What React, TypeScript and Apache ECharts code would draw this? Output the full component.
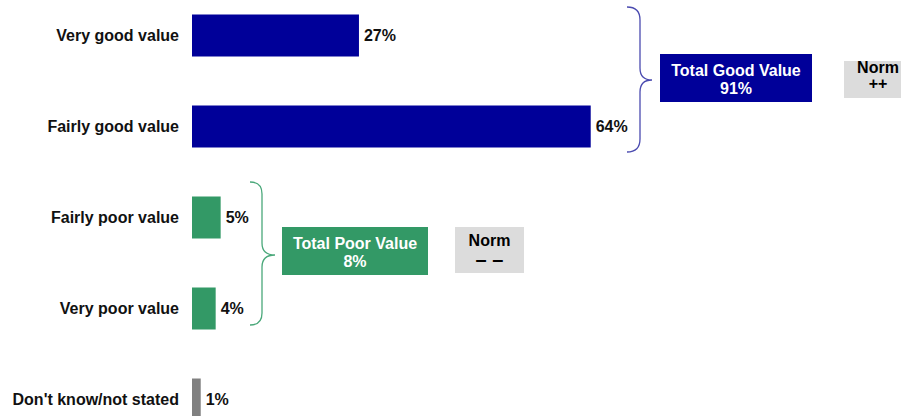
import React, { useEffect, useRef } from "react";
import * as echarts from "echarts";

const categories = [
  "Very good value",
  "Fairly good value",
  "Fairly poor value",
  "Very poor value",
  "Don't know/not stated",
];
const values = [26.8, 64.0, 4.6, 3.8, 1.4];
const barColors = ["#000099", "#000099", "#339966", "#339966", "#808080"];
const goodIdx = [0, 1];
const poorIdx = [2, 3];
const goodNorm = "++";
const poorNorm = "– –";

const FONT = "Liberation Sans, Arial, sans-serif";
const OY = 10; // the chart div is shifted up by this many pixels

export default function App() {
  const ref = useRef<HTMLDivElement>(null);
  useEffect(() => {
    if (!ref.current) return;
    echarts.graphic.registerShape(
      "braceGood",
      echarts.graphic.extendPath(
        "M627,7 Q640,7 640,20 L640,68 Q640,80 652,80 Q640,80 640,92 L640,139 Q640,152 627,152",
        {}
      )
    );
    echarts.graphic.registerShape(
      "bracePoor",
      echarts.graphic.extendPath(
        "M250,182 Q262,182 262,194 L262,243 Q262,255 275,255 Q262,255 262,267 L262,313 Q262,325 250,325",
        {}
      )
    );
    const chart = echarts.init(ref.current, null, { renderer: "svg" });
    const goodTotal = Math.round(goodIdx.reduce((s, i) => s + values[i], 0));
    const poorTotal = Math.round(poorIdx.reduce((s, i) => s + values[i], 0));
    const boxText = (extra: any) => ({
      fontFamily: FONT,
      fontWeight: "bold",
      fontSize: 16,
      lineHeight: 18,
      align: "center",
      verticalAlign: "middle",
      ...extra,
    });
    chart.setOption({
      animation: false,
      grid: { left: 192, width: 623, top: 0, height: 455, containLabel: false },
      xAxis: {
        type: "value",
        min: 0,
        max: 100,
        show: false,
      },
      yAxis: {
        type: "category",
        data: categories,
        inverse: true,
        axisLine: { show: false },
        axisTick: { show: false },
        axisLabel: {
          margin: 13,
          fontFamily: FONT,
          fontWeight: "bold",
          fontSize: 16,
          color: "#111111",
        },
      },
      series: [
        {
          type: "bar",
          barWidth: 42,
          data: values.map((v, i) => ({ value: v, itemStyle: { color: barColors[i] } })),
          label: {
            show: true,
            position: "right",
            distance: 5,
            fontFamily: FONT,
            fontWeight: "bold",
            fontSize: 16,
            color: "#111111",
            formatter: (p: any) => Math.round(p.value) + "%",
          },
        },
      ],
      graphic: [
        { type: "braceGood", x: 0, y: OY, style: { fill: null, stroke: "#4b4bb0", lineWidth: 1.3 } },
        { type: "bracePoor", x: 0, y: OY, style: { fill: null, stroke: "#4aa87a", lineWidth: 1.3 } },
        { type: "rect", shape: { x: 660, y: 54 + OY, width: 152, height: 48 }, style: { fill: "#000099" } },
        {
          type: "text",
          x: 736,
          y: 79 + OY,
          style: boxText({ text: "Total Good Value\n" + goodTotal + "%", fill: "#ffffff" }),
        },
        { type: "rect", shape: { x: 844, y: 61 + OY, width: 68, height: 37 }, style: { fill: "#dcdcdc" } },
        {
          type: "text",
          x: 878,
          y: 75 + OY,
          style: boxText({ text: "Norm\n" + goodNorm, fill: "#000000", lineHeight: 16 }),
        },
        { type: "rect", shape: { x: 282, y: 227 + OY, width: 146, height: 48 }, style: { fill: "#339966" } },
        {
          type: "text",
          x: 355,
          y: 252 + OY,
          style: boxText({ text: "Total Poor Value\n" + poorTotal + "%", fill: "#ffffff" }),
        },
        { type: "rect", shape: { x: 455, y: 227 + OY, width: 69, height: 46 }, style: { fill: "#dcdcdc" } },
        {
          type: "text",
          x: 489.5,
          y: 240 + OY,
          style: boxText({ text: "Norm", fill: "#000000", lineHeight: 16 }),
        },
        {
          type: "text",
          x: 489.5,
          y: 259 + OY,
          style: boxText({ text: poorNorm, fill: "#000000", fontSize: 20, lineHeight: 18 }),
        },
      ],
    });
    return () => chart.dispose();
  }, []);
  return (
    <div
      ref={ref}
      style={{ position: "absolute", left: 0, top: -OY, width: 901, height: 426 + OY + 40, background: "#ffffff" }}
    />
  );
}
